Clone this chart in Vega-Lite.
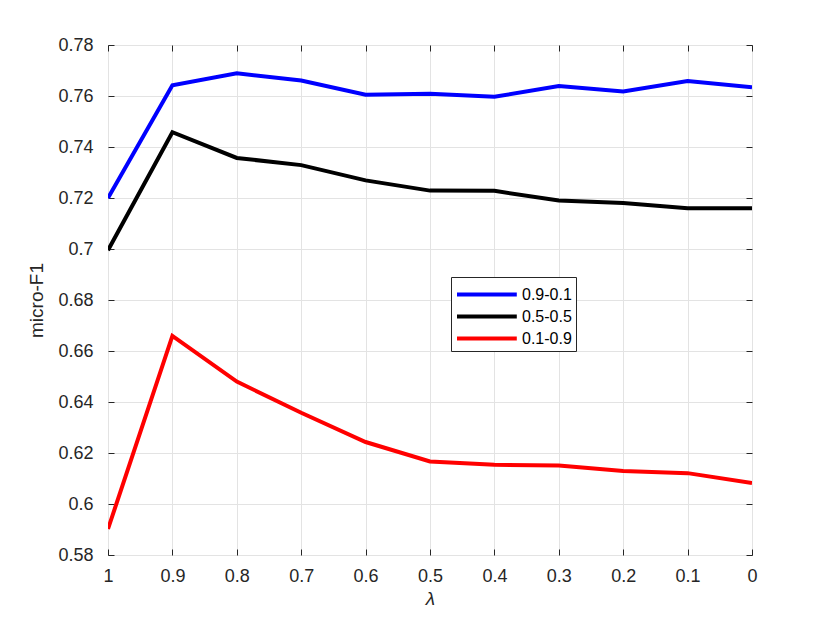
{
  "$schema": "https://vega.github.io/schema/vega-lite/v6.json",
  "width": 644,
  "height": 510,
  "autosize": {"type": "none"},
  "padding": {"left": 108, "top": 45, "right": 78, "bottom": 68},
  "background": "white",
  "config": {
    "font": "Liberation Sans",
    "view": {"stroke": "#262626", "strokeWidth": 1},
    "axis": {
      "labelFont": "Liberation Sans",
      "titleFont": "Liberation Sans",
      "labelFontSize": 18,
      "labelColor": "#262626",
      "titleColor": "#262626",
      "titleFontWeight": "normal",
      "domainColor": "#262626",
      "tickColor": "#262626",
      "gridColor": "#e3e3e3",
      "gridOpacity": 1
    }
  },
  "data": {
    "values": [
      {"lambda": 1, "series": "0.9-0.1", "f1": 0.7200},
      {"lambda": 0.9, "series": "0.9-0.1", "f1": 0.7642},
      {"lambda": 0.8, "series": "0.9-0.1", "f1": 0.7689},
      {"lambda": 0.7, "series": "0.9-0.1", "f1": 0.7661},
      {"lambda": 0.6, "series": "0.9-0.1", "f1": 0.7605},
      {"lambda": 0.5, "series": "0.9-0.1", "f1": 0.7609},
      {"lambda": 0.4, "series": "0.9-0.1", "f1": 0.7597},
      {"lambda": 0.3, "series": "0.9-0.1", "f1": 0.7639},
      {"lambda": 0.2, "series": "0.9-0.1", "f1": 0.7618},
      {"lambda": 0.1, "series": "0.9-0.1", "f1": 0.7659},
      {"lambda": 0, "series": "0.9-0.1", "f1": 0.7634},
      {"lambda": 1, "series": "0.5-0.5", "f1": 0.6995},
      {"lambda": 0.9, "series": "0.5-0.5", "f1": 0.7458},
      {"lambda": 0.8, "series": "0.5-0.5", "f1": 0.7357},
      {"lambda": 0.7, "series": "0.5-0.5", "f1": 0.7329},
      {"lambda": 0.6, "series": "0.5-0.5", "f1": 0.7269},
      {"lambda": 0.5, "series": "0.5-0.5", "f1": 0.7229},
      {"lambda": 0.4, "series": "0.5-0.5", "f1": 0.7228},
      {"lambda": 0.3, "series": "0.5-0.5", "f1": 0.7190},
      {"lambda": 0.2, "series": "0.5-0.5", "f1": 0.7180},
      {"lambda": 0.1, "series": "0.5-0.5", "f1": 0.7160},
      {"lambda": 0, "series": "0.5-0.5", "f1": 0.7160},
      {"lambda": 1, "series": "0.1-0.9", "f1": 0.5902},
      {"lambda": 0.9, "series": "0.1-0.9", "f1": 0.6659},
      {"lambda": 0.8, "series": "0.1-0.9", "f1": 0.6480},
      {"lambda": 0.7, "series": "0.1-0.9", "f1": 0.6358},
      {"lambda": 0.6, "series": "0.1-0.9", "f1": 0.6243},
      {"lambda": 0.5, "series": "0.1-0.9", "f1": 0.6167},
      {"lambda": 0.4, "series": "0.1-0.9", "f1": 0.6154},
      {"lambda": 0.3, "series": "0.1-0.9", "f1": 0.6151},
      {"lambda": 0.2, "series": "0.1-0.9", "f1": 0.6129},
      {"lambda": 0.1, "series": "0.1-0.9", "f1": 0.6121},
      {"lambda": 0, "series": "0.1-0.9", "f1": 0.6082}
    ]
  },
  "resolve": {"axis": {"x": "independent", "y": "independent"}},
  "layer": [
    {
      "mark": {"type": "line", "strokeWidth": 4, "strokeJoin": "miter", "clip": true},
      "encoding": {
        "x": {
          "field": "lambda", "type": "quantitative",
          "scale": {"domain": [0, 1], "reverse": true, "nice": false, "zero": false},
          "axis": {"values": [0, 0.1, 0.2, 0.3, 0.4, 0.5, 0.6, 0.7, 0.8, 0.9, 1], "format": "~g", "ticks": false, "labelFlush": false, "labelPadding": 12, "title": "λ", "titleFontStyle": "italic", "titleFontSize": 19, "titlePadding": 4, "domain": false}
        },
        "y": {
          "field": "f1", "type": "quantitative",
          "scale": {"domain": [0.58, 0.78], "nice": false, "zero": false},
          "axis": {"values": [0.58, 0.6, 0.62, 0.64, 0.66, 0.68, 0.7, 0.72, 0.74, 0.76, 0.78], "format": "~g", "ticks": false, "labelFlush": false, "labelPadding": 15, "title": "micro-F1", "titleFontSize": 19, "titlePadding": 11, "domain": false}
        },
        "color": {
          "field": "series", "type": "nominal",
          "scale": {"domain": ["0.9-0.1", "0.5-0.5", "0.1-0.9"], "range": ["#0000ff", "#000000", "#ff0000"]},
          "legend": {
            "title": null,
            "orient": "none",
            "legendX": 343,
            "legendY": 232,
            "symbolType": "M-1,0L4.2,0",
            "symbolSize": 529,
            "symbolStrokeWidth": 4,
            "labelFontSize": 16,
            "labelOffset": 40,
            "labelColor": "#000000",
            "labelFont": "Liberation Sans",
            "labelExpr": "datum.label + '\u00a0\u00a0\u00a0\u00a0\u00a0\u00a0\u00a0'",
            "rowPadding": 0,
            "padding": 4,
            "strokeColor": "#262626",
            "fillColor": "white"
          }
        }
      }
    },
    {
      "mark": {"type": "line", "opacity": 0},
      "encoding": {
        "x": {
          "field": "lambda", "type": "quantitative",
          "scale": {"domain": [0, 1], "reverse": true, "nice": false, "zero": false},
          "axis": {"orient": "top", "offset": -6, "values": [0, 0.1, 0.2, 0.3, 0.4, 0.5, 0.6, 0.7, 0.8, 0.9, 1], "labels": false, "tickSize": 6, "title": null, "grid": false, "domain": false}
        },
        "y": {
          "field": "f1", "type": "quantitative",
          "scale": {"domain": [0.58, 0.78], "nice": false, "zero": false},
          "axis": {"orient": "right", "offset": -6, "values": [0.58, 0.6, 0.62, 0.64, 0.66, 0.68, 0.7, 0.72, 0.74, 0.76, 0.78], "labels": false, "tickSize": 6, "title": null, "grid": false, "domain": false}
        },
        "detail": {"field": "series"}
      }
    },
    {
      "mark": {"type": "line", "opacity": 0},
      "encoding": {
        "x": {
          "field": "lambda", "type": "quantitative",
          "scale": {"domain": [0, 1], "reverse": true, "nice": false, "zero": false},
          "axis": {"orient": "bottom", "offset": -6, "values": [0, 0.1, 0.2, 0.3, 0.4, 0.5, 0.6, 0.7, 0.8, 0.9, 1], "labels": false, "tickSize": 6, "title": null, "grid": false, "domain": false}
        },
        "y": {
          "field": "f1", "type": "quantitative",
          "scale": {"domain": [0.58, 0.78], "nice": false, "zero": false},
          "axis": {"orient": "left", "offset": -6, "values": [0.58, 0.6, 0.62, 0.64, 0.66, 0.68, 0.7, 0.72, 0.74, 0.76, 0.78], "labels": false, "tickSize": 6, "title": null, "grid": false, "domain": false}
        },
        "detail": {"field": "series"}
      }
    }
  ]
}
